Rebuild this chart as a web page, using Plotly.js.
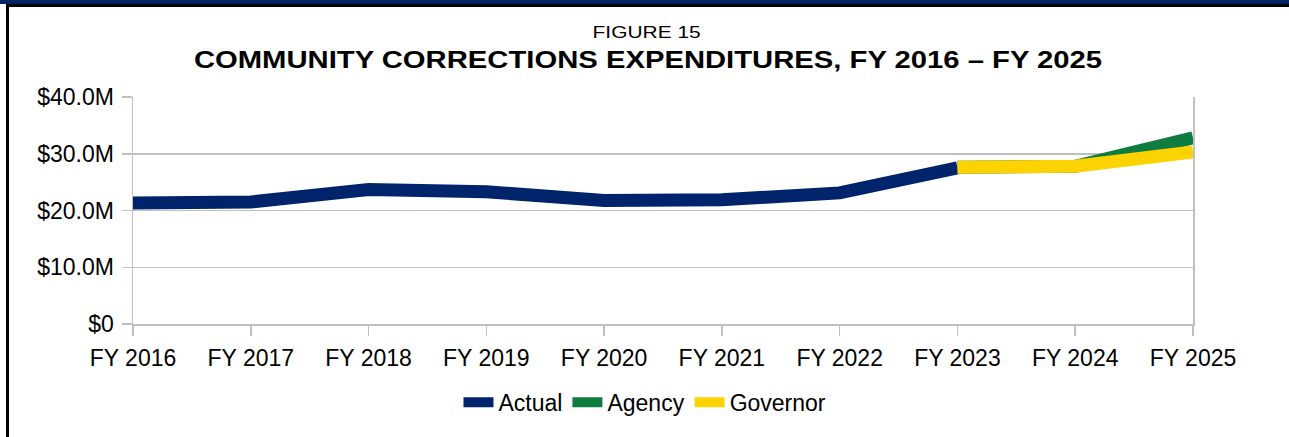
<!DOCTYPE html>
<html>
<head>
<meta charset="utf-8">
<script src="https://cdn.plot.ly/plotly-3.0.1.min.js"></script>
<style>
  html, body { margin: 0; padding: 0; background: #ffffff; }
  #wrap { position: relative; width: 1289px; height: 437px; overflow: hidden; }
  #chart { position: absolute; left: 0; top: 0; width: 1289px; height: 437px; }
  .bar-navy { position: absolute; left: 0; top: 0; width: 1289px; height: 4px; background: #002366; pointer-events: none; }
  .bar-black { position: absolute; left: 6px; top: 4px; width: 1283px; height: 3px; background: #000000; pointer-events: none; }
  .side-black { position: absolute; left: 6px; top: 4px; width: 3px; height: 433px; background: #000000; pointer-events: none; }
</style>
</head>
<body>
<div id="wrap">
  <div id="chart"></div>
  <div class="bar-navy"></div>
  <div class="bar-black"></div>
  <div class="side-black"></div>
</div>
<script>
const categories = ["FY 2016","FY 2017","FY 2018","FY 2019","FY 2020","FY 2021","FY 2022","FY 2023","FY 2024","FY 2025"];
const actual   = [21.3, 21.5, 23.7, 23.3, 21.75, 21.9, 23.1, 27.5, null, null];
const agency   = [null, null, null, null, null, null, null, 27.6, 27.8, 32.8];
const governor = [null, null, null, null, null, null, null, 27.6, 27.8, 30.3];
const yTickVals = [0, 10, 20, 30, 40];
const yTickText = ["$0", "$10.0M", "$20.0M", "$30.0M", "$40.0M"];

const FONT = "Liberation Sans, Arial, sans-serif";
const LW = 13;

const traces = [
  { x: categories, y: actual, name: "Actual", type: "scatter", mode: "lines",
    line: { color: "#00246b", width: LW }, connectgaps: false },
  { x: categories, y: agency, name: "Agency", type: "scatter", mode: "lines",
    line: { color: "#0f7d41", width: LW }, connectgaps: false },
  { x: categories, y: governor, name: "Governor", type: "scatter", mode: "lines",
    line: { color: "#fcd200", width: LW }, connectgaps: false }
];

const layout = {
  width: 1289, height: 437,
  margin: { l: 133, r: 96, t: 97, b: 113, pad: 0 },
  paper_bgcolor: "#ffffff", plot_bgcolor: "#ffffff",
  font: { family: FONT, size: 23, color: "#000000" },
  showlegend: true,
  legend: { orientation: "h", x: 0.483, xanchor: "center", y: -0.345, yanchor: "middle",
            font: { family: FONT, size: 23, color: "#000000" }, itemwidth: 30, tracegroupgap: 0 },
  xaxis: {
    type: "category", range: [0, 9], showgrid: false, zeroline: false,
    showline: true, linecolor: "#c0c0c0", linewidth: 1.5, mirror: false,
    ticks: "outside", ticklen: 10, tickcolor: "#c0c0c0", tickwidth: 1.5,
    ticklabelstandoff: 3,
    tickfont: { family: FONT, size: 23, color: "#000000" }, fixedrange: true
  },
  yaxis: {
    range: [0, 40], tickvals: yTickVals, ticktext: yTickText,
    showgrid: true, gridcolor: "#c0c0c0", gridwidth: 1.5, zeroline: false,
    showline: true, linecolor: "#c0c0c0", linewidth: 1.5, mirror: true,
    ticks: "outside", ticklen: 10, tickcolor: "#c0c0c0", tickwidth: 1.5,
    ticklabelstandoff: 3,
    tickfont: { family: FONT, size: 23, color: "#000000" }, fixedrange: true
  },
  annotations: [
    { text: "FIGURE 15", xref: "paper", yref: "paper", x: 0.484, y: (324 - 31) / 228,
      xanchor: "center", yanchor: "middle", showarrow: false,
      font: { family: FONT, size: 16.5, color: "#000000" } },
    { text: "<b>COMMUNITY CORRECTIONS EXPENDITURES, FY 2016 – FY 2025</b>", xref: "paper", yref: "paper",
      x: 0.486, y: (324 - 59) / 228, xanchor: "center", yanchor: "middle", showarrow: false,
      font: { family: FONT, size: 23.5, color: "#000000" } }
  ]
};

Plotly.newPlot("chart", traces, layout, { displayModeBar: false, staticPlot: true }).then(function (gd) {
  // the reference titles are rendered horizontally widened
  gd.querySelectorAll("text.annotation-text").forEach(function (t, i) {
    t.style.transformBox = "fill-box";
    t.style.transformOrigin = "center";
    t.style.transform = i === 0 ? "scaleX(1.27)" : "scaleX(1.245)";
  });
});
</script>
</body>
</html>
